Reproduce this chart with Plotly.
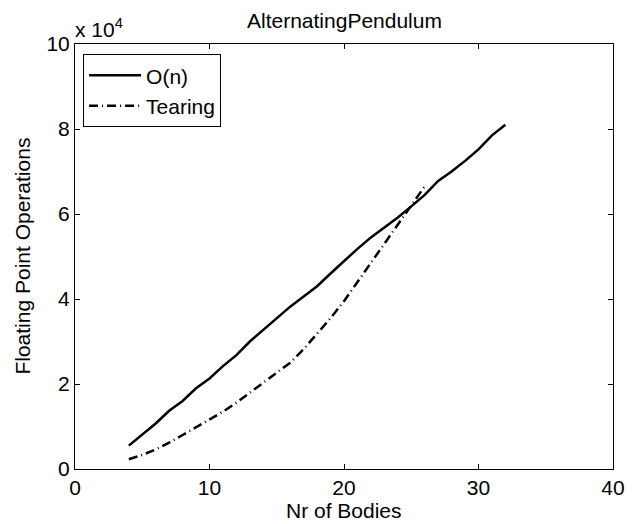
import plotly.graph_objects as go

bodies_on = list(range(4, 33))
flops_on = [0.55, 0.80, 1.07, 1.37, 1.60, 1.90, 2.13, 2.42, 2.68, 3.00, 3.27, 3.55,
            3.82, 4.06, 4.30, 4.60, 4.90, 5.18, 5.45, 5.68, 5.92, 6.18, 6.45, 6.78,
            7.00, 7.25, 7.52, 7.85, 8.10]
flops_on = [v * 1e4 for v in flops_on]

bodies_tear = list(range(4, 27))
flops_tear = [0.23, 0.33, 0.46, 0.62, 0.80, 0.98, 1.15, 1.35, 1.56, 1.80, 2.03, 2.27,
              2.50, 2.82, 3.18, 3.55, 3.95, 4.40, 4.85, 5.28, 5.75, 6.20, 6.65]
flops_tear = [v * 1e4 for v in flops_tear]

x_ticks = [0, 10, 20, 30, 40]
y_ticks = [0, 2e4, 4e4, 6e4, 8e4, 10e4]
y_tick_labels = ["0", "2", "4", "6", "8", "10"]

font = "Liberation Sans, Arial, sans-serif"

fig = go.Figure()
fig.add_trace(go.Scatter(x=bodies_on, y=flops_on, mode="lines", name="O(n)",
                         line=dict(color="black", width=2.5)))
fig.add_trace(go.Scatter(x=bodies_tear, y=flops_tear, mode="lines", name="Tearing",
                         line=dict(color="black", width=2.5, dash="9px,4px,1px,4px")))

axis_common = dict(showline=True, linecolor="black", linewidth=1, mirror="ticks",
                   ticks="inside", ticklen=5, tickcolor="black", showgrid=False,
                   zeroline=False, tickfont=dict(size=21, color="black", family=font))

# page has an 8px body margin; plot area on page: x 75..624, y 44..469
FIG_W, FIG_H = 629, 516
M_L, M_R, M_T, M_B = 67, 13, 36, 55
H_PLOT = FIG_H - M_T - M_B
W_PLOT = FIG_W - M_L - M_R

fig.update_layout(
    width=FIG_W, height=FIG_H,
    margin=dict(l=M_L, r=M_R, t=M_T, b=M_B),
    paper_bgcolor="white", plot_bgcolor="white",
    font=dict(family=font, color="black"),
    xaxis=dict(range=[0, 40], tickvals=x_ticks, **axis_common),
    yaxis=dict(range=[0, 10e4], tickvals=y_ticks, ticktext=y_tick_labels, **axis_common),
    legend=dict(x=0.015, y=0.976, xanchor="left", yanchor="top",
                bordercolor="black", borderwidth=1, bgcolor="white",
                font=dict(size=21), tracegroupgap=0, itemwidth=52),
    showlegend=True,
    annotations=[
        dict(text="AlternatingPendulum", xref="paper", yref="paper",
             x=0.5, y=1 + (44 - 21) / H_PLOT, xanchor="center", yanchor="middle",
             showarrow=False, font=dict(size=21)),
        dict(text="x 10<sup>4</sup>", xref="paper", yref="paper",
             x=0, y=1, xanchor="left", yanchor="bottom", showarrow=False,
             font=dict(size=21), yshift=1, xshift=-2),
        dict(text="Nr of Bodies", xref="paper", yref="paper",
             x=0.5, y=-(510 - 469) / H_PLOT, xanchor="center", yanchor="middle",
             showarrow=False, font=dict(size=21)),
        dict(text="Floating Point Operations", xref="paper", yref="paper",
             x=-(75 - 21) / W_PLOT, y=0.5, xanchor="center", yanchor="middle",
             textangle=-90, showarrow=False, font=dict(size=21)),
    ],
)

fig.write_html("out.html")
